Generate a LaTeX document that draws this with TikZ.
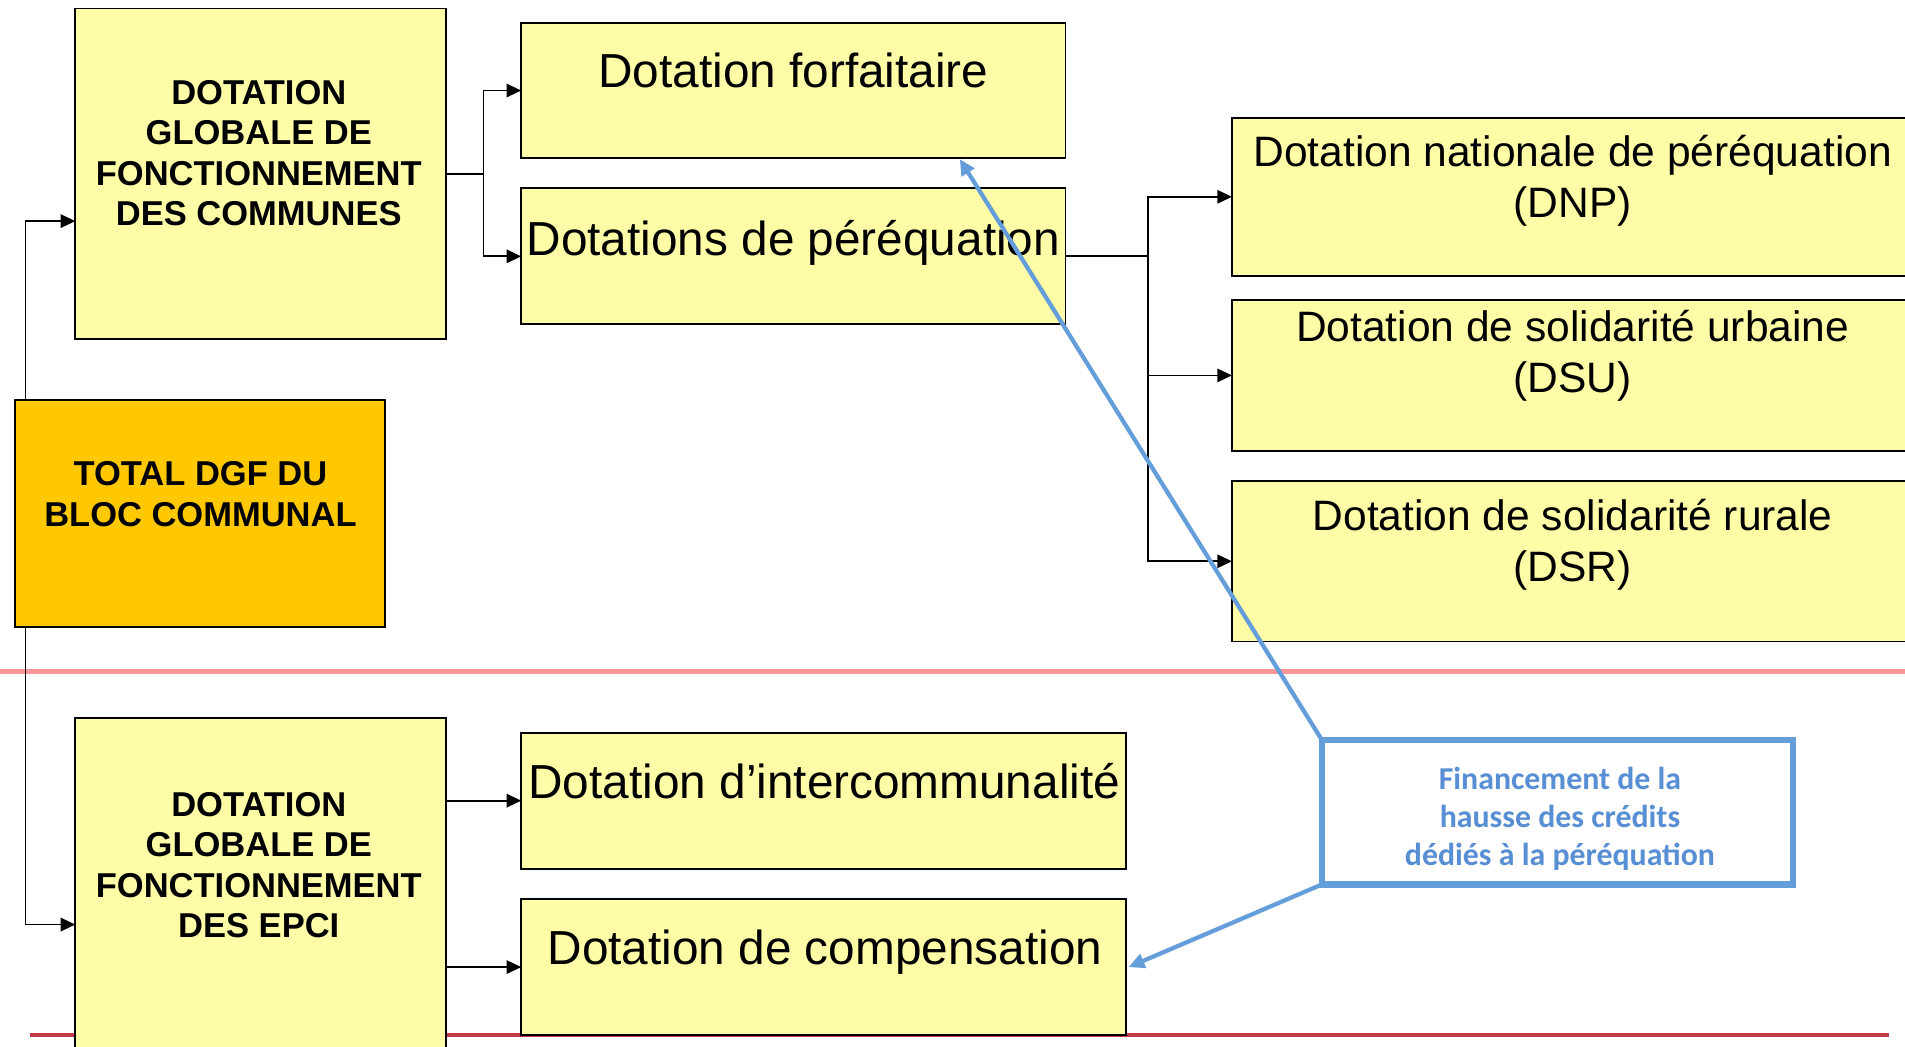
\documentclass[tikz,border=0pt]{standalone}
\usepackage{fontspec}
\setmainfont{Liberation Sans}
\newfontfamily\calib{Carlito}
\usetikzlibrary{arrows.meta}
\definecolor{boxyellow}{RGB}{255,252,167}
\definecolor{boxorange}{RGB}{255,200,0}
\definecolor{calloutblue}{RGB}{100,158,218}
\definecolor{textblue}{RGB}{88,142,212}
\definecolor{pinkline}{RGB}{255,150,150}
\definecolor{darkred}{RGB}{192,58,72}
\begin{document}
\begin{tikzpicture}[x=1pt,y=-1pt,
  ybox/.style={draw=black, line width=1.6pt, fill=boxyellow, rectangle, inner sep=0pt, outer sep=0pt, anchor=north west},
  obox/.style={ybox, fill=boxorange},
  boldtxt/.style={font=\fontsize{28.4}{33.4}\selectfont\bfseries, align=center, anchor=base, inner sep=0pt},
  bigtxt/.style={font=\fontsize{39.3}{46}\selectfont, anchor=base, inner sep=0pt},
  medtxt/.style={font=\fontsize{35}{42}\selectfont, align=center, anchor=base, inner sep=0pt},
  conn/.style={draw=black, line width=1.5pt},
  arr/.style={conn, -{Triangle[length=12pt,width=11pt]}},
  bluearr/.style={draw=calloutblue, line width=3.5pt, -{Triangle[length=13pt,width=12pt]}}
]
\useasboundingbox (0,0) rectangle (1568,861);
% separator lines
\draw[pinkline, line width=4pt] (0,553) -- (1568,553);
\draw[darkred, line width=3pt] (25,852) -- (1555,852);

% boxes
\node[ybox, minimum width=305pt, minimum height=272pt] (dgfc) at (62,7) {};
\node[obox, minimum width=305pt, minimum height=187pt] (total) at (12,329) {};
\node[ybox, minimum width=305pt, minimum height=290pt] (epci) at (62,591) {};
\node[ybox, minimum width=448pt, minimum height=111pt] (forf) at (429,19) {};
\node[ybox, minimum width=448pt, minimum height=112pt] (perq) at (429,155) {};
\node[ybox, minimum width=561pt, minimum height=130pt] (dnp) at (1014,97) {};
\node[ybox, minimum width=561pt, minimum height=124pt] (dsu) at (1014,247) {};
\node[ybox, minimum width=561pt, minimum height=132pt] (dsr) at (1014,396) {};
\node[ybox, minimum width=498pt, minimum height=112pt] (interc) at (429,603) {};
\node[ybox, minimum width=498pt, minimum height=112pt] (comp) at (429,740) {};

% texts (base anchor = baseline of last line)
\node[boldtxt] (dgfct) at (213,186) {DOTATION\\GLOBALE DE\\FONCTIONNEMENT\\DES COMMUNES};
\node[boldtxt] (totalt) at (165,433) {TOTAL DGF DU\\BLOC COMMUNAL};
\node[boldtxt] (epcit) at (213,772) {DOTATION\\GLOBALE DE\\FONCTIONNEMENT\\DES EPCI};
\node[bigtxt] (forft) at (653,72) {Dotation forfaitaire};
\node[bigtxt] (perqt) at (653,210) {Dotations de péréquation};
\node[medtxt] (dnpt) at (1294.5,179) {Dotation nationale de péréquation\\(DNP)};
\node[medtxt] (dsut) at (1294.5,323) {Dotation de solidarité urbaine\\(DSU)};
\node[medtxt] (dsrt) at (1294.5,479) {Dotation de solidarité rurale\\(DSR)};
\node[bigtxt] (interct) at (678.5,657) {Dotation d’intercommunalité};
\node[bigtxt] (compt) at (679,794) {Dotation de compensation};

% black connectors
\coordinate (j1) at (398,143);
\draw[conn] (dgfc.east) -- (j1);
\draw[arr] (j1) |- (forf.west);
\draw[arr] (j1) |- (perq.west);
\coordinate (j2) at (945,211);
\draw[conn] (perq.east) -- (j2);
\draw[arr] (j2) |- (dnp.west);
\draw[arr] (j2) |- (dsu.west);
\draw[arr] (j2) |- (dsr.west);
\coordinate (tx) at (21,0);
\draw[arr] (total.north -| tx) |- ([yshift=-39pt]dgfc.west);
\draw[arr] (total.south -| tx) |- ([yshift=-25pt]epci.west);
\draw[arr] (epci.east |- interc.west) -- (interc.west);
\draw[arr] (epci.east |- comp.west) -- (comp.west);

% callout
\node[draw=calloutblue, line width=5pt, fill=white, rectangle, inner sep=0pt, outer sep=0pt,
      minimum width=388pt, minimum height=119pt, anchor=north west] (callout) at (1088,609) {};
\node[font=\calib\bfseries\fontsize{26.2}{31}\selectfont, text=textblue, align=center, anchor=base, inner sep=0pt]
  (calloutt) at (1284,712) {Financement de la\\hausse des crédits\\dédiés à la péréquation};
\draw[bluearr] (callout.north west) -- ([xshift=137pt,yshift=-1pt]forf.south);
\draw[bluearr] (callout.south west) -- ([xshift=2pt]comp.east);
\end{tikzpicture}
\end{document}
